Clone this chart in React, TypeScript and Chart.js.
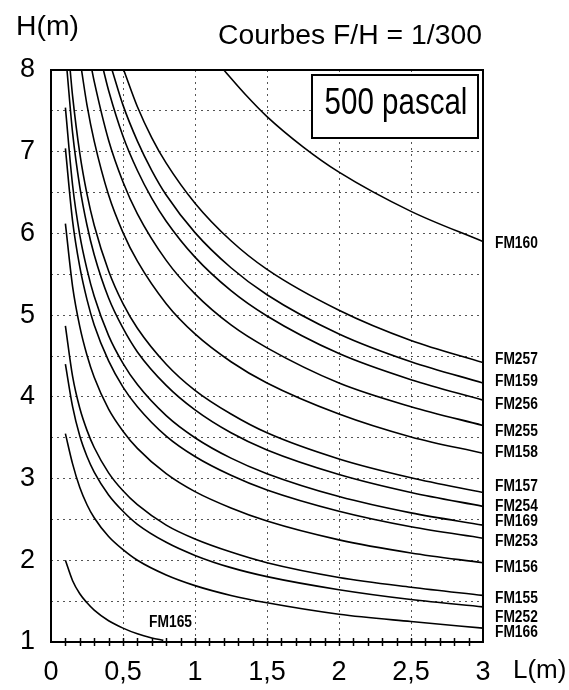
import { useEffect, useRef } from 'react';
import { Chart, registerables } from 'chart.js';

Chart.register(...registerables);

// Curves: [L (m), H (m)]
const FM160 = [[1.2, 8.0], [1.35, 7.7], [1.5, 7.43], [1.75, 7.06], [2.0, 6.75], [2.5, 6.27], [3.0, 5.9]];
const FM257 = [[0.505, 8.0], [0.6, 7.55], [0.7, 7.17], [0.8, 6.86], [1.0, 6.37], [1.25, 5.91], [1.5, 5.56], [2.0, 5.06], [2.5, 4.69], [3.0, 4.42]];
const FM159 = [[0.424, 8.0], [0.5, 7.57], [0.6, 7.13], [0.7, 6.77], [0.8, 6.47], [1.0, 6.01], [1.25, 5.58], [1.5, 5.25], [2.0, 4.77], [2.5, 4.43], [3.0, 4.17]];
const FM256 = [[0.364, 8.0], [0.4, 7.75], [0.5, 7.19], [0.6, 6.77], [0.7, 6.43], [0.8, 6.15], [1.0, 5.71], [1.25, 5.3], [1.5, 4.99], [2.0, 4.53], [2.5, 4.21], [3.0, 3.96]];
const FM255 = [[0.284, 8.0], [0.3, 7.86], [0.4, 7.14], [0.5, 6.63], [0.6, 6.24], [0.8, 5.67], [1.0, 5.26], [1.25, 4.88], [1.5, 4.6], [2.0, 4.17], [2.5, 3.88], [3.0, 3.65]];
const FM158 = [[0.212, 8.0], [0.25, 7.57], [0.3, 7.13], [0.4, 6.47], [0.5, 6.01], [0.6, 5.66], [0.8, 5.14], [1.0, 4.77], [1.25, 4.43], [1.5, 4.17], [2.0, 3.79], [2.5, 3.51], [3.0, 3.31]];
const FM157 = [[0.133, 8.0], [0.15, 7.68], [0.2, 6.98], [0.25, 6.48], [0.3, 6.1], [0.4, 5.54], [0.5, 5.14], [0.6, 4.84], [0.8, 4.4], [1.0, 4.08], [1.25, 3.79], [1.5, 3.56], [2.0, 3.24], [2.5, 3.01], [3.0, 2.83]];
const FM254 = [[0.111, 8.0], [0.15, 7.23], [0.2, 6.57], [0.25, 6.1], [0.3, 5.74], [0.4, 5.21], [0.5, 4.84], [0.6, 4.55], [0.8, 4.14], [1.0, 3.84], [1.25, 3.56], [1.5, 3.35], [2.0, 3.05], [2.5, 2.83], [3.0, 2.66]];
const FM169 = [[0.1, 7.54], [0.15, 6.59], [0.2, 5.98], [0.25, 5.56], [0.3, 5.23], [0.4, 4.75], [0.5, 4.41], [0.6, 4.15], [0.8, 3.77], [1.0, 3.5], [1.25, 3.25], [1.5, 3.06], [2.0, 2.78], [2.5, 2.58], [3.0, 2.43]];
const FM253 = [[0.1, 7.04], [0.15, 6.15], [0.2, 5.59], [0.25, 5.19], [0.3, 4.88], [0.4, 4.44], [0.5, 4.12], [0.6, 3.88], [0.8, 3.52], [1.0, 3.27], [1.25, 3.04], [1.5, 2.86], [2.0, 2.6], [2.5, 2.41], [3.0, 2.27]];
const FM156 = [[0.1, 6.12], [0.15, 5.35], [0.2, 4.86], [0.25, 4.51], [0.3, 4.24], [0.4, 3.85], [0.5, 3.58], [0.6, 3.37], [0.8, 3.06], [1.0, 2.84], [1.25, 2.64], [1.5, 2.48], [2.0, 2.25], [2.5, 2.09], [3.0, 1.97]];
const FM155 = [[0.1, 4.87], [0.15, 4.25], [0.2, 3.86], [0.25, 3.59], [0.3, 3.38], [0.4, 3.07], [0.5, 2.85], [0.6, 2.68], [0.8, 2.43], [1.0, 2.26], [1.25, 2.1], [1.5, 1.97], [2.0, 1.79], [2.5, 1.67], [3.0, 1.57]];
const FM252 = [[0.1, 4.4], [0.15, 3.88], [0.2, 3.52], [0.25, 3.27], [0.3, 3.08], [0.4, 2.8], [0.5, 2.6], [0.6, 2.44], [0.8, 2.22], [1.0, 2.06], [1.25, 1.91], [1.5, 1.8], [2.0, 1.64], [2.5, 1.52], [3.0, 1.43]];
const FM166 = [[0.1, 3.55], [0.15, 3.18], [0.2, 2.89], [0.25, 2.68], [0.3, 2.52], [0.4, 2.29], [0.5, 2.13], [0.6, 2.0], [0.8, 1.82], [1.0, 1.69], [1.25, 1.57], [1.5, 1.48], [2.0, 1.34], [2.5, 1.25], [3.0, 1.17]];
const FM165 = [[0.1, 2.0], [0.15, 1.75], [0.2, 1.59], [0.25, 1.48], [0.3, 1.39], [0.4, 1.26], [0.5, 1.17], [0.6, 1.1], [0.7, 1.05], [0.78, 1.02]];

const CURVES = [FM160, FM257, FM159, FM256, FM255, FM158, FM157, FM254, FM169, FM253, FM156, FM155, FM252, FM166, FM165];
const CURVE_NAMES = ['FM160', 'FM257', 'FM159', 'FM256', 'FM255', 'FM158', 'FM157', 'FM254', 'FM169', 'FM253', 'FM156', 'FM155', 'FM252', 'FM166', 'FM165'];

// Right-hand labels (name, H position of the label)
const RIGHT_LABELS = ['FM160', 'FM257', 'FM159', 'FM256', 'FM255', 'FM158', 'FM157', 'FM254', 'FM169', 'FM253', 'FM156', 'FM155', 'FM252', 'FM166'];
const RIGHT_LABEL_H = [5.88, 4.46, 4.19, 3.91, 3.58, 3.32, 2.9, 2.66, 2.47, 2.23, 1.91, 1.53, 1.3, 1.11];
const INNER_LABEL = 'FM165';
const INNER_LABEL_POS = [0.83, 1.24];

const X_MIN = 0, X_MAX = 3, X_STEP = 0.5;
const Y_MIN = 1, Y_MAX = 8, Y_STEP = 0.5;
const MINOR_X_STEP = 0.1;

const TITLE = 'Courbes F/H = 1/300';
const Y_TITLE = 'H(m)';
const X_TITLE = 'L(m)';
const BOX_TEXT = '500 pascal';

const FONT = "'Liberation Sans', Arial, sans-serif";

function drawText(ctx: CanvasRenderingContext2D, text: string, x: number, y: number, font: string, sx: number, align: CanvasTextAlign) {
  ctx.save();
  ctx.font = font;
  ctx.fillStyle = '#000';
  ctx.textBaseline = 'middle';
  ctx.textAlign = align;
  ctx.translate(x, y);
  ctx.scale(sx, 1);
  ctx.fillText(text, 0, 0);
  ctx.restore();
}

const decor = {
  id: 'decor',
  beforeDraw(chart: any) {
    const ctx = chart.ctx;
    ctx.save();
    ctx.fillStyle = '#fff';
    ctx.fillRect(0, 0, chart.width, chart.height);
    ctx.restore();
  },
  afterDraw(chart: any) {
    const ctx: CanvasRenderingContext2D = chart.ctx;
    const { left, right, top, bottom } = chart.chartArea;
    const xs = chart.scales.x;
    const ys = chart.scales.y;

    // frame
    ctx.save();
    ctx.strokeStyle = '#000';
    ctx.lineWidth = 2;
    ctx.strokeRect(left, top, right - left, bottom - top);
    // minor ticks on bottom axis
    ctx.lineWidth = 1.5;
    for (let v = MINOR_X_STEP; v < X_MAX - 1e-6; v += MINOR_X_STEP) {
      const px = Math.round(xs.getPixelForValue(v)) + 0.5;
      ctx.beginPath();
      ctx.moveTo(px, bottom - 4);
      ctx.lineTo(px, bottom + 4);
      ctx.stroke();
    }
    ctx.restore();

    // right labels
    RIGHT_LABELS.forEach((name, i) => {
      drawText(ctx, name, right + 12, ys.getPixelForValue(RIGHT_LABEL_H[i]), `bold 16px ${FONT}`, 0.86, 'left');
    });
    drawText(ctx, INNER_LABEL, xs.getPixelForValue(INNER_LABEL_POS[0]), ys.getPixelForValue(INNER_LABEL_POS[1]), `bold 16px ${FONT}`, 0.86, 'center');

    // box
    ctx.save();
    ctx.fillStyle = '#fff';
    ctx.fillRect(312, 75, 166, 63);
    ctx.strokeStyle = '#000';
    ctx.lineWidth = 2;
    ctx.strokeRect(312, 75, 166, 63);
    ctx.restore();
    drawText(ctx, BOX_TEXT, 396, 104, `36px ${FONT}`, 0.82, 'center');

    // titles
    drawText(ctx, TITLE, 218, 37, `27px ${FONT}`, 1.05, 'left');
    drawText(ctx, Y_TITLE, 16, 28, `27px ${FONT}`, 1.05, 'left');
    drawText(ctx, X_TITLE, 513, 671, `26px ${FONT}`, 1.0, 'left');
  },
};

export default function App() {
  const ref = useRef<HTMLCanvasElement>(null);
  useEffect(() => {
    const datasets = CURVES.map((c, i) => ({
      label: CURVE_NAMES[i],
      data: c.map(([x, y]) => ({ x, y })),
      borderColor: '#000',
      borderWidth: 1.6,
      pointRadius: 0,
      fill: false,
      cubicInterpolationMode: 'monotone' as const,
    }));
    const chart = new Chart(ref.current!, {
      type: 'line',
      data: { datasets },
      plugins: [decor],
      options: {
        animation: false,
        responsive: false,
        devicePixelRatio: 1,
        layout: { padding: { left: 0, top: 70, right: 86, bottom: 0 } },
        plugins: { legend: { display: false }, tooltip: { enabled: false }, title: { display: false } },
        scales: {
          x: {
            type: 'linear',
            min: X_MIN,
            max: X_MAX,
            afterFit: (s: any) => { s.height = 48; },
            ticks: {
              stepSize: X_STEP,
              autoSkip: false,
              maxRotation: 0,
              padding: 14,
              color: '#000',
              font: { family: FONT, size: 27 },
              callback: (v: any) => String(v).replace('.', ','),
            },
            grid: { color: '#555', lineWidth: 1, drawTicks: false },
            border: { display: false, dash: [2, 4] },
          },
          y: {
            type: 'linear',
            min: Y_MIN,
            max: Y_MAX,
            afterFit: (s: any) => { s.width = 51; },
            ticks: {
              stepSize: Y_STEP,
              autoSkip: false,
              padding: 16,
              color: '#000',
              font: { family: FONT, size: 27 },
              callback: (v: any) => (Number.isInteger(v) ? String(v) : ''),
            },
            grid: { color: '#555', lineWidth: 1, drawTicks: false },
            border: { display: false, dash: [2, 4] },
          },
        },
      },
    } as any);
    return () => chart.destroy();
  }, []);
  return (
    <div style={{ position: 'fixed', left: 0, top: 0, width: 569, height: 690, background: '#fff' }}>
      <canvas ref={ref} width={569} height={690} style={{ display: 'block', width: 569, height: 690 }} />
    </div>
  );
}
